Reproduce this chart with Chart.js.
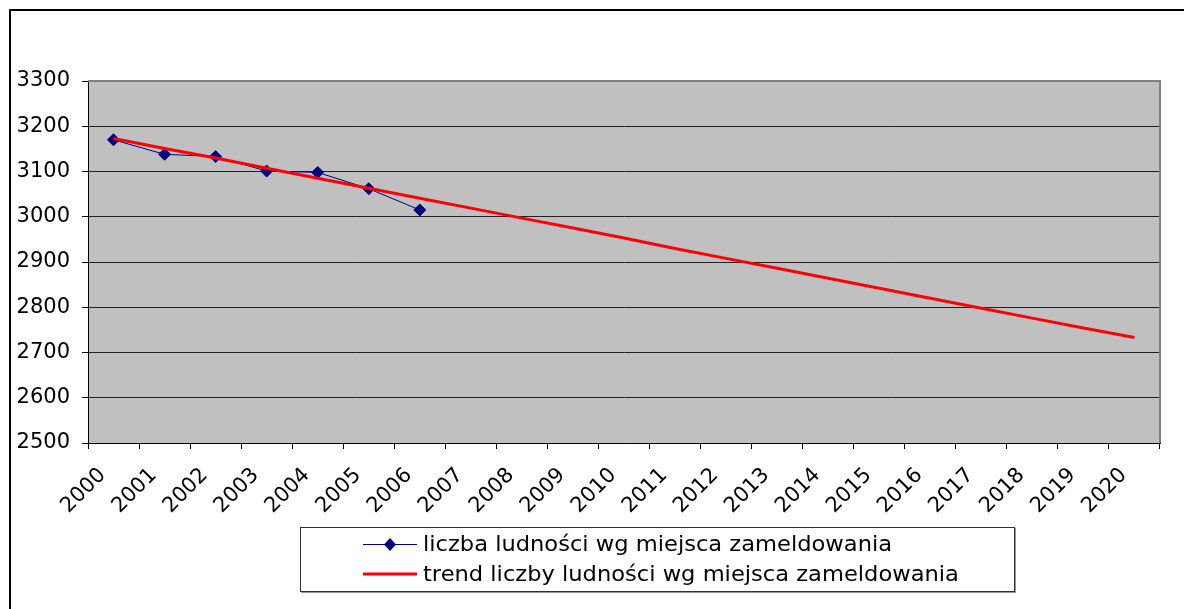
<!DOCTYPE html>
<html>
<head>
<meta charset="utf-8">
<script src="https://cdn.jsdelivr.net/npm/chart.js@4/dist/chart.umd.min.js"></script>
<style>
  html, body { margin: 0; padding: 0; background: #fff; }
  #wrap { position: relative; width: 1184px; height: 609px; overflow: hidden; }
  #frame { position: absolute; left: 9px; top: 9px; width: 1300px; height: 700px;
           border-left: 2px solid #000; border-top: 2px solid #000; }
  #legend { position: absolute; left: 300px; top: 527px; width: 713px; height: 63px;
            border: 1px solid #303030; box-shadow: 1px 1px 0 #999;
            font-family: "DejaVu Sans", sans-serif; font-size: 21px; color: #000; }
  .row { position: absolute; left: 62px; height: 26px; display: flex; align-items: center; white-space: nowrap; }
  .row canvas { margin-right: 6px; }
  .row span { display: inline-block; transform: scaleX(1.075); transform-origin: left center; }
</style>
</head>
<body>
<div id="wrap">
  <canvas id="chart" width="1184" height="609"></canvas>
  <div id="frame"></div>
  <div id="legend"></div>
</div>
<script>
// categories (years)
const years = ['2000','2001','2002','2003','2004','2005','2006','2007','2008','2009','2010',
               '2011','2012','2013','2014','2015','2016','2017','2018','2019','2020'];

// population by registered residence (2000-2006)
const population = [3170, 3138, 3133, 3101, 3098, 3062, 3015];

// trend line values
const trend = [3173, 3151, 3130, 3107, 3085, 3063, 3041, 3019, 2997, 2975, 2953,
               2930, 2908, 2886, 2864, 2842, 2820, 2798, 2776, 2754, 2733];

const labelPop = 'liczba ludności wg miejsca zameldowania';
const labelTrend = 'trend liczby ludności wg miejsca zameldowania';

const FONT = '"DejaVu Sans", sans-serif';

// gray plot background + gray right/top border like Excel
const plotBg = {
    id: 'plotBg',
    beforeDraw(chart) {
        const { ctx, chartArea: a } = chart;
        ctx.save();
        ctx.fillStyle = '#c0c0c0';
        ctx.fillRect(a.left, a.top, a.right - a.left, a.bottom - a.top);
        ctx.restore();
    },
    afterDatasetsDraw(chart) {
        const { ctx, chartArea: a } = chart;
        ctx.save();
        ctx.strokeStyle = '#808080';
        ctx.lineWidth = 2;
        ctx.beginPath();
        ctx.moveTo(a.left, a.top);
        ctx.lineTo(a.right, a.top);
        ctx.lineTo(a.right, a.bottom);
        ctx.stroke();
        ctx.restore();
    }
};

new Chart(document.getElementById('chart'), {
    type: 'line',
    data: {
        labels: years,
        datasets: [
            {
                label: labelTrend,
                data: trend,
                borderColor: '#ff0000',
                borderWidth: 3,
                pointRadius: 0,
                tension: 0,
                order: 1
            },
            {
                label: labelPop,
                data: population,
                borderColor: '#000080',
                backgroundColor: '#000080',
                borderWidth: 1,
                pointStyle: 'rectRot',
                pointRadius: 6,
                tension: 0,
                order: 2
            }
        ]
    },
    options: {
        responsive: false,
        animation: false,
        layout: { padding: { left: 0, top: 81, right: 24, bottom: 0 } },
        plugins: {
            legend: { display: false },
            tooltip: { enabled: false }
        },
        scales: {
            x: {
                offset: true,
                grid: {
                    offset: true,
                    drawOnChartArea: false,
                    drawTicks: true,
                    tickLength: 6,
                    color: '#000'
                },
                border: { color: '#000', width: 1 },
                ticks: {
                    font: { family: FONT, size: 21 },
                    color: '#000',
                    maxRotation: 45,
                    minRotation: 45,
                    autoSkip: false,
                    padding: 14,
                    labelOffset: -11
                },
                afterFit: (s) => { s.height = 166; }
            },
            y: {
                min: 2500,
                max: 3300,
                ticks: {
                    stepSize: 100,
                    font: { family: FONT, size: 21 },
                    color: '#000',
                    padding: 12,
                    callback: (v) => String(v)
                },
                grid: {
                    color: (c) => c.tick && c.tick.value === 3300 ? '#808080' : '#202020',
                    tickColor: '#000',
                    tickLength: 6
                },
                border: { color: '#000', width: 1 },
                afterFit: (s) => { s.width = 88; }
            }
        }
    },
    plugins: [plotBg]
});

// legend (HTML, markers drawn on small canvases)
function legendRow(top, label, draw) {
    const row = document.createElement('div');
    row.className = 'row';
    row.style.top = top + 'px';
    const c = document.createElement('canvas');
    c.width = 54; c.height = 26;
    draw(c.getContext('2d'));
    row.appendChild(c);
    const span = document.createElement('span');
    span.textContent = label;
    row.appendChild(span);
    document.getElementById('legend').appendChild(row);
}
legendRow(3, labelPop, (g) => {
    g.strokeStyle = '#000080'; g.lineWidth = 1;
    g.beginPath(); g.moveTo(0, 13.5); g.lineTo(54, 13.5); g.stroke();
    g.fillStyle = '#000080';
    g.beginPath(); g.moveTo(27, 7); g.lineTo(33, 13.5); g.lineTo(27, 20); g.lineTo(21, 13.5); g.closePath(); g.fill();
});
legendRow(33, labelTrend, (g) => {
    g.strokeStyle = '#ff0000'; g.lineWidth = 3;
    g.beginPath(); g.moveTo(0, 13); g.lineTo(54, 13); g.stroke();
});
</script>
</body>
</html>
